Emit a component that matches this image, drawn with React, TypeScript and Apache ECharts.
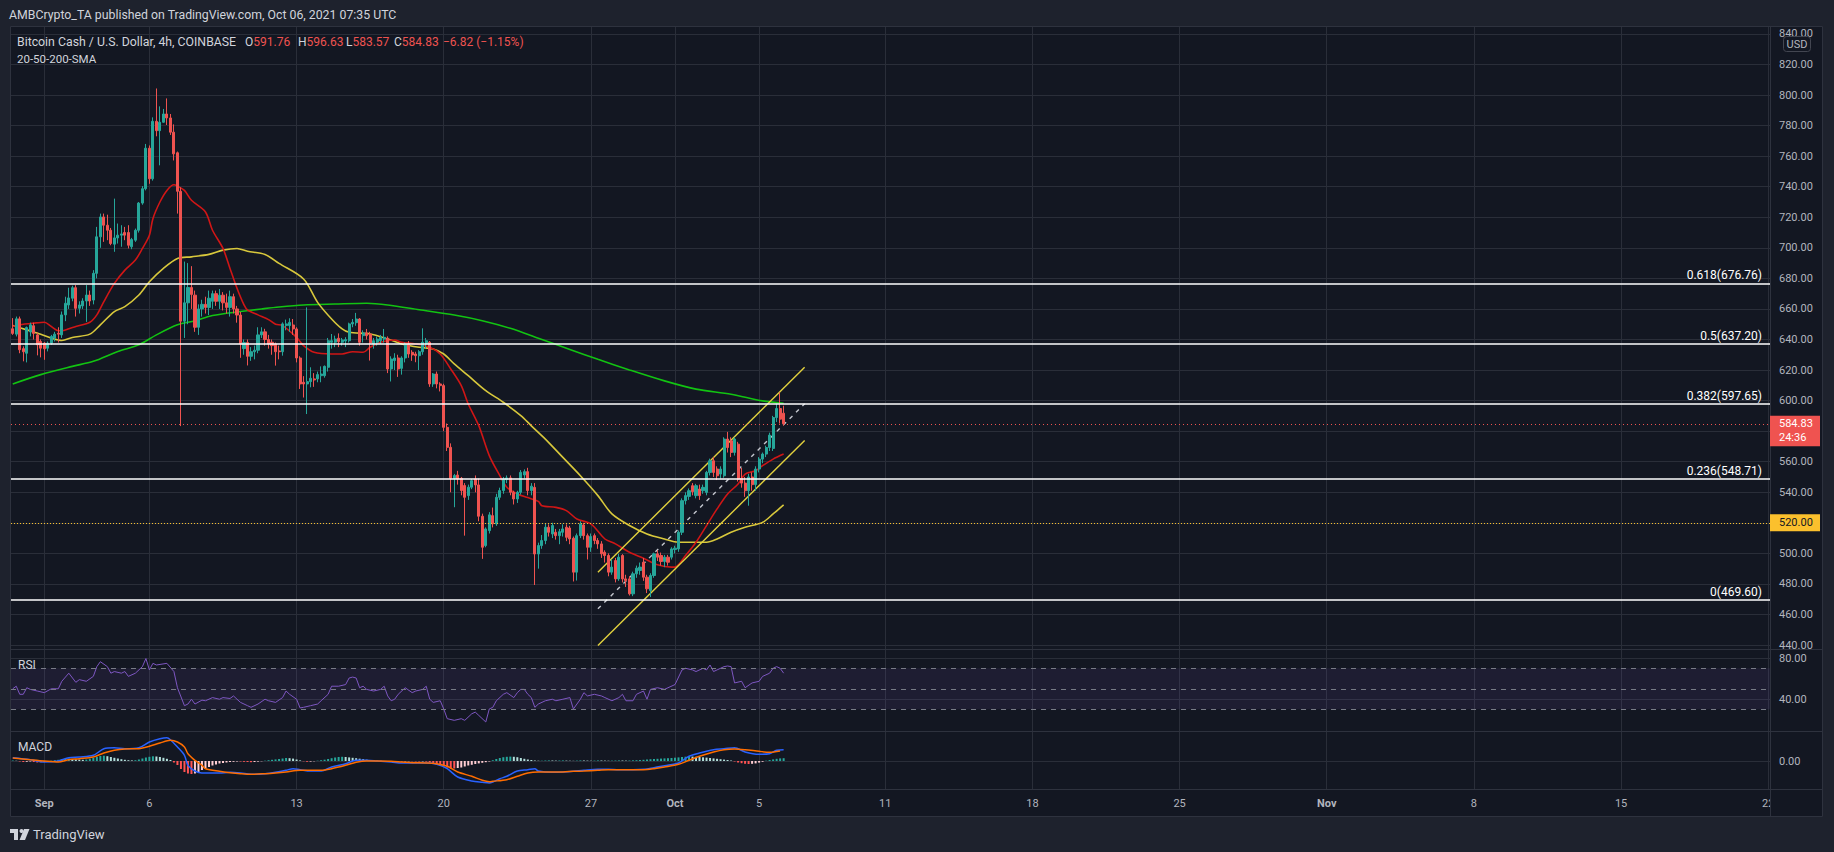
import React, { useEffect, useRef } from 'react';
import * as echarts from 'echarts';

// ---------- texts ----------
const headerTitle = 'AMBCrypto_TA published on TradingView.com, Oct 06, 2021 07:35 UTC';
const symbolTitle = 'Bitcoin Cash / U.S. Dollar, 4h, COINBASE';
const indicatorTitle = '20-50-200-SMA';
const ohlcLabels = ['O', 'H', 'L', 'C'];
const ohlcValues = [591.76, 596.63, 583.57, 584.83];
const changeText = '−6.82 (−1.15%)';
const lastPrice = 584.83;
const countdown = '24:36';
const alertLevel = 520;

// ---------- time axis ----------
const BARS_BEFORE_SEP1 = 9; // first bar: Aug 30 12:00 UTC, 4h bars
const CATEGORY_COUNT = 502;
const tickDays = [0, 5, 12, 19, 26, 30, 34, 40, 47, 54, 61, 68, 75, 82];
const tickLabels = ['Sep', '6', '13', '20', '27', 'Oct', '5', '11', '18', '25', 'Nov', '8', '15', '22'];
const monthLabels = ['Sep', 'Oct', 'Nov'];

// ---------- fibonacci ----------
const fibRatios = ['0.618', '0.5', '0.382', '0.236', '0'];
const fibPrices = [676.76, 637.2, 597.65, 548.71, 469.6];

// ---------- candles [open, close, low, high] ----------
const candles = [
  [647, 644, 643, 654], [643.5, 653.5, 642, 655], [653.5, 633.3, 631, 655], [634, 632, 625.7, 635.5],
  [631, 647.8, 625, 648.5], [645, 649.6, 642, 651], [649, 644, 640, 651], [643, 636.5, 629.6, 644.5],
  [638.7, 634.3, 628.3, 640],
  // Sep 1
  [637.6, 633.9, 626.7, 638.3], [634.3, 637.6, 632.2, 638.7], [637.6, 642, 636.5, 643], [640.9, 643.5, 638.7, 645], [644.1, 643.5, 638, 648], [643, 656.1, 641, 658.3],
  [656.1, 663.7, 652, 668], [662.6, 667.2, 660, 673.9], [667, 673.9, 665, 675.2], [673.9, 660.4, 655, 675.6], [660.4, 662.6, 657, 665], [662, 665.2, 660, 667],
  [665.2, 669.1, 651.5, 675.6], [669.1, 665.2, 662, 672], [665.8, 683.3, 663, 685.4], [683.3, 707.2, 680, 713.7], [707.2, 720.2, 700, 722.4], [720.2, 714.8, 703.9, 722.4],
  [714.8, 711.5, 705, 721.7], [711.5, 702.8, 701.7, 713], [702.4, 706.5, 697.4, 732.2], [706.5, 708.3, 702.8, 715.9], [708.3, 709.1, 700.7, 714.8], [710, 708.3, 705, 713.7],
  [710, 701.7, 699.6, 714.8], [700.7, 705.4, 699.1, 706.5], [705, 711.5, 703.9, 712.6], [711.5, 729.3, 710, 730], [729.3, 738.7, 728.2, 740.4], [738.7, 765.2, 737.6, 768],
  [765.2, 745.2, 741.9, 767], [745.2, 782.8, 744, 785.4], [782.8, 776.7, 773, 804.3], [776.7, 782.2, 754, 792.6], [782.2, 787.6, 781.9, 790.9], [787.6, 785, 780.4, 797.8],
  [785, 775.7, 773.9, 787.6], [775.7, 761.5, 757.2, 780.8], [762.2, 737, 722.4, 763], [737, 652, 583.3, 739.6], [652, 664, 641, 691], [664, 674, 650, 690],
  [674, 669.5, 660, 688], [669, 648, 645, 672], [648, 660, 643, 663], [660, 663, 655, 666], [663, 661, 657, 668], [661, 667, 656, 672],
  [665, 670, 660, 672], [670, 665, 662, 672], [665, 669, 660, 673], [669, 664, 659, 671], [664, 661, 657, 670], [661, 668, 655, 672],
  [668, 660, 657, 670], [660, 656, 651, 662], [656, 637, 628, 658], [634, 638, 630, 640], [638, 629, 623, 640], [629, 632, 626, 635],
  [632, 633, 627, 636], [633, 643, 631, 648], [643, 645, 641, 648], [645, 640, 636, 647], [640, 637, 634, 643], [638.2, 636, 630, 640],
  [637.1, 632, 622.9, 638], [632.5, 632, 627, 636], [632, 650.2, 629.4, 651.2], [649.1, 650.2, 646, 653], [649.1, 651.2, 645, 653.9], [649.5, 646.9, 643, 653.4],
  [646.9, 627.9, 625, 648], [627.9, 610.9, 607.6, 629], [612, 610.9, 602, 616], [610.9, 612.4, 591.2, 661], [612.4, 614.6, 608.7, 621.8], [614.2, 613.5, 609, 618],
  [614.2, 617, 612, 619], [616.3, 617.4, 612, 622.4], [616.3, 622.4, 615, 623], [621.8, 639.2, 619, 641], [638.2, 639.2, 634, 643.6], [638.2, 640.3, 635, 642.5],
  [640.8, 638.6, 635, 644], [638.2, 639.7, 636, 641], [639, 639.9, 635, 641.5], [639.2, 650.2, 638, 651], [650.2, 651.2, 648, 653.4], [651, 653.4, 649, 657.4],
  [653.4, 638.2, 636, 654], [642.5, 644.3, 638, 646], [644.3, 642.5, 640, 646.9], [643.6, 637.7, 626.2, 645], [637.1, 639.2, 634, 641], [638.2, 640.3, 636, 642],
  [639.2, 641.4, 637, 643], [640.3, 641.4, 638, 646.9], [640.8, 620.7, 618, 642], [620.7, 627.2, 612.5, 629], [626.2, 627.9, 620, 631], [627.9, 620.7, 615.5, 630],
  [621.1, 627.9, 617, 629], [627.9, 637.1, 625, 638], [637.1, 630.5, 628, 639], [631.6, 629.9, 626, 633], [630.5, 629.4, 625.1, 632], [629.4, 632, 620, 633],
  [632, 638.2, 630, 647.3], [637.1, 639.2, 634, 641], [638.2, 610.9, 609, 639], [610.9, 617.4, 609, 618], [617.4, 610.9, 608, 619], [610.9, 609.8, 606, 612],
  [609.8, 582.5, 580, 611], [582.5, 569.4, 567, 585], [569.4, 549.1, 540, 572], [549.1, 550.9, 530.2, 552], [551.3, 548.7, 545, 554], [549.1, 541.1, 538, 550],
  [544.4, 536.7, 511.6, 546], [537.8, 543.3, 535, 545], [543.3, 547.6, 542, 548.7], [548.7, 544.8, 540, 551], [544.8, 524.3, 521, 549], [524.3, 504, 496.4, 526],
  [505.1, 516, 504, 517], [514.9, 525.2, 513, 527], [524.7, 519.3, 517, 530], [519.3, 536.7, 518, 539], [536.7, 541.1, 535, 543], [541.1, 548.7, 539, 550],
  [548.3, 549.4, 546, 551], [549.4, 540, 538, 551], [540, 535.6, 532, 541], [535.6, 540, 533, 541], [540, 553, 538.5, 554.5], [551.3, 553.5, 549, 555],
  [553.5, 541.1, 538, 556], [541.1, 544, 538, 546], [543.2, 499.6, 479.3, 546], [499.6, 505.1, 490, 507], [505.1, 508.4, 503, 512], [508.4, 517.1, 506, 519.3],
  [517.1, 513.8, 511, 519], [512.7, 518.2, 510, 520], [513.8, 511.6, 509, 516], [511.6, 514.2, 506, 516], [513.8, 516, 511, 519], [517.1, 510.5, 508, 519],
  [516.6, 509.4, 506, 518], [509.9, 487.7, 481.6, 511], [487.7, 511.6, 482.2, 513], [511.6, 519.3, 510, 521], [518.6, 511.6, 509, 520], [511.6, 504, 496, 513],
  [504, 511, 501, 513], [511.6, 508.4, 506, 513], [508.4, 506.2, 503, 510], [506.2, 499.7, 497, 508], [500.7, 498.6, 494, 502], [498.6, 487.7, 485, 500],
  [487.7, 491, 486, 496], [495.3, 483.3, 481, 497], [483.3, 497.5, 482, 499.7], [498.6, 483.3, 481, 499.5], [483.3, 482.2, 478, 486], [483.3, 473.5, 472.4, 485],
  [473.5, 486.6, 472, 488], [486.6, 490.3, 484, 492], [488.8, 491, 486, 494], [494.2, 484.4, 482, 497], [484.4, 476.8, 474, 486], [475.7, 485.5, 471.4, 487],
  [485.5, 499.7, 484, 500.5], [499.7, 497.5, 495, 502], [498.6, 494.7, 492, 500.5], [494.7, 497.5, 491, 499], [497.5, 494.2, 492, 499], [497.5, 502.9, 496, 504],
  [502.5, 503.4, 500, 505], [502.9, 513.8, 501, 515], [513.8, 534.5, 512, 536], [534.5, 537.8, 532, 540], [537.3, 541, 535, 542.5], [544.3, 540.4, 538, 546],
  [537.8, 544.3, 536, 545.5], [542.1, 537.8, 535, 545], [541, 543.2, 539, 545], [539.9, 553, 538, 554], [553, 560.6, 551, 562], [560.6, 553, 550, 563],
  [555.2, 550.8, 548, 557], [551.9, 555.2, 549, 557], [550.8, 574.8, 549.5, 576], [574.8, 569.3, 566, 579.5], [573.7, 566.1, 563, 576], [566.1, 574.8, 564, 576],
  [571.5, 548.6, 547, 573], [549, 546, 543, 556], [546, 541, 537, 550], [541, 550, 531.2, 552], [550, 545, 541, 553], [545, 555.2, 541, 557],
  [555.2, 561.7, 553, 563], [561.7, 565, 559, 566], [565, 569.3, 563, 570.5], [569.3, 577.4, 567, 579], [568.7, 588.9, 567, 590], [588.9, 594.8, 586, 598],
  [594.8, 587.85, 585, 605.3], [591.76, 584.83, 583.57, 596.63],
];

// ---------- moving averages: [bar offset from Sep 1 00:00, value] ----------
const sma20 = [
  [-9, 648.5], [-7, 649.6], [-3, 650.7], [0, 651.3], [2, 648.5], [4, 645.7], [5, 645.7], [7, 647], [9, 648.5], [13, 651.3],
  [15, 656.1], [17, 664.8], [20, 676.7], [23, 685.4], [26, 692], [28, 699.6], [30, 708.3], [31, 719.1], [33, 730], [35, 737.6],
  [37, 741.3], [38, 740.4], [40, 737.6], [42, 731.1], [46, 723.5], [48, 711.5], [51, 699.6], [53, 686.5], [55, 673.5], [57, 662.6],
  [58, 659.3], [61, 656.1], [64, 653], [66, 650], [68, 649.1], [72, 641.4], [74, 636], [77, 631.6], [82, 630.5], [85, 630.5],
  [88, 632], [91, 631.6], [93, 634.9], [96, 638.2], [100, 639.7], [102, 638.2], [106, 637.1], [110, 634.9], [113, 630.5], [116, 620.7],
  [119, 609.8], [121, 597.8], [124, 583.6], [127, 564], [130, 550.9], [132, 543.3], [135, 538.9], [138, 536.5], [141, 534], [142, 531.2],
  [146, 530.1], [149, 528], [152, 522.5], [156, 519.3], [160, 509.4], [163, 506.2], [167, 500.7], [171, 496.8], [175, 492.5], [179, 491],
  [180, 491], [183, 498.6], [186, 507.3], [189, 518.2], [192, 529.1], [195, 538.9], [198, 545.4], [200, 551.9], [203, 554.1], [205, 557.4],
  [208, 561.7], [211, 565],
];
const sma50 = [
  [-9, 649.1], [-5, 646.3], [-1, 643.5], [2, 640.9], [5, 639.3], [8, 641.3], [13, 643.5], [16, 649.6], [20, 658.3], [23, 661.5],
  [27, 669.1], [30, 677.8], [34, 686.5], [38, 693], [42, 694.1], [47, 695.7], [51, 698.5], [55, 699.6], [58, 697.8], [63, 695.7],
  [67, 689.8], [74, 679.6], [78, 664.3], [82, 653.4], [85, 646.9], [87, 644.7], [93, 643.6], [98, 640.3], [102, 637.1], [107, 634.9],
  [111, 633.8], [114, 630.5], [117, 624], [121, 616.3], [126, 606.5], [131, 598.9], [136, 590.2], [139, 583.5], [143, 574.8], [148, 562.8],
  [153, 550.8], [158, 537.8], [162, 525.8], [167, 518.2], [172, 512.7], [177, 509.4], [181, 507.3], [186, 507.3], [189, 507.3], [192, 509.4],
  [196, 513.8], [200, 517.1], [205, 520.3], [208, 525.8], [211, 531.7],
];
const sma200 = [
  [-9, 610.9], [-1, 617], [8, 622.4], [14, 625.7], [21, 632.2], [27, 636.5], [32, 643], [38, 649.6], [43, 652.2], [48, 655.7],
  [56, 658.3], [62, 660], [67, 661.3], [74, 662.6], [83, 663.2], [92, 663.7], [98, 662.6], [107, 659.5], [117, 656], [125, 652.3],
  [133, 647.3], [141, 640.8], [150, 633.5], [158, 627], [167, 620.1], [177, 612.9], [186, 607.5], [196, 604.2], [205, 599.8], [211, 598.3],
];

// ---------- drawn channel (bar offset, price) ----------
const channelUpper = [[158, 487.7], [217, 621.9]];
const channelMiddle = [[158, 463.7], [217, 597.9]];
const channelLower = [[158, 439.7], [217, 573.9]];

// ---------- RSI ----------
const rsiLevels = [70, 50, 30];
const rsi = [
  [-9, 50], [-8, 52.5], [-7, 44.6], [-6, 44.6], [-5, 51], [-4, 49.4], [-2, 47.8], [0, 46.2], [2, 50], [4, 50],
  [5, 57.3], [7, 65.2], [9, 56.3], [10, 58.9], [12, 57.3], [14, 62.1], [15, 71.6], [16, 76.4], [18, 71.6], [19, 65.2],
  [20, 66.8], [22, 65.2], [23, 66.8], [24, 62.1], [26, 65.2], [28, 71.6], [29, 79.5], [30, 68.4], [31, 74.8], [32, 73.2],
  [35, 74.8], [37, 66.8], [38, 51], [40, 33.5], [41, 35.1], [42, 39.8], [43, 35.1], [45, 38.9], [46, 38.3], [48, 41.4],
  [50, 39.8], [51, 41.4], [53, 40.5], [54, 43], [55, 39.8], [56, 36.7], [58, 33.5], [59, 31.9], [61, 35.1], [63, 39.8],
  [64, 38.3], [66, 36.7], [68, 41.4], [69, 47.8], [70, 44.6], [72, 39.8], [73, 31.3], [74, 31.9], [76, 33.5], [78, 35.1],
  [79, 38.3], [81, 44.6], [82, 52.5], [84, 52.5], [86, 54.1], [87, 60.5], [88, 61.4], [89, 60.5], [90, 51], [91, 52.5],
  [92, 49.4], [94, 47.8], [96, 49.4], [97, 52.5], [98, 43], [99, 38.3], [100, 39.8], [101, 44.6], [103, 51], [105, 46.2],
  [106, 47.8], [108, 49.4], [109, 52.5], [110, 39.8], [111, 36.7], [113, 38.3], [114, 30.3], [115, 20.8], [117, 19.2], [119, 20.8],
  [120, 19.2], [122, 25.6], [123, 27.2], [124, 24], [126, 17.6], [127, 30.3], [128, 31.9], [129, 38.3], [131, 44.6], [132, 46.2],
  [134, 41.4], [135, 46.2], [136, 49.4], [137, 49.4], [138, 44.6], [139, 41.4], [140, 31.9], [141, 35.1], [143, 38.3], [145, 39.8],
  [146, 38.3], [148, 39.8], [150, 41.4], [151, 30.3], [153, 39.8], [154, 46.2], [155, 43], [157, 44.6], [159, 43], [160, 41.4],
  [162, 38.3], [164, 41.4], [165, 44.6], [166, 38.3], [168, 38.3], [169, 44.6], [171, 47.8], [172, 39.8], [173, 49.4], [175, 51],
  [177, 49.4], [178, 51], [180, 54.1], [182, 68.4], [183, 70], [185, 68.4], [186, 66.8], [188, 70], [189, 68.4], [190, 73.2],
  [191, 66.8], [192, 68.4], [194, 71.6], [195, 72.2], [196, 71.6], [197, 55.7], [199, 57.3], [200, 51], [202, 55.7], [204, 57.3],
  [205, 62.1], [207, 65.2], [208, 70], [209, 71.6], [210, 70], [211, 65.2],
];

// ---------- MACD ----------
const macdLine = [
  [-9, 3.3], [-4, 1.3], [0, -1], [4, 0], [7, 3.3], [10, 4], [14, 5.7], [17, 12.3], [20, 13.3], [23, 12.3],
  [27, 13.3], [30, 19], [33, 22.3], [35, 23.3], [36, 21.3], [38, 14], [40, 5.7], [41, -4.3], [43, -10], [45, -12],
  [46, -12], [50, -12], [53, -11.3], [56, -12], [59, -13.3], [63, -12.7], [66, -11.3], [69, -9.3], [71, -7.7], [73, -8.7],
  [76, -10], [79, -10], [82, -6], [86, -2.7], [89, 0.7], [92, 0.7], [95, 0], [99, -1], [102, -2], [105, -2],
  [109, -2], [112, -3.3], [115, -7.7], [118, -16], [122, -20], [125, -21.3], [127, -22], [128, -21], [130, -17.7], [132, -15.3],
  [135, -10], [138, -8.7], [140, -7.7], [141, -10], [145, -11.3], [148, -11], [151, -10.3], [154, -9.3], [158, -8.3], [161, -8.3],
  [164, -8.7], [168, -8.7], [171, -8.3], [174, -6.7], [177, -4.7], [181, -2], [184, 4.7], [187, 8], [191, 11.3], [194, 12.3],
  [197, 13.3], [200, 9], [204, 6.7], [207, 7.3], [209, 10.7], [211, 11.3],
];
const signalLine = [
  [-9, 3], [-4, 1.3], [0, 0], [4, -1], [7, 1.3], [10, 2.3], [14, 4], [17, 8], [20, 10.7], [23, 12],
  [27, 12.3], [30, 14.7], [33, 18], [36, 20.7], [38, 19], [40, 14], [41, 7.3], [43, 0.7], [45, -4.3], [46, -7.7],
  [50, -10.3], [53, -11.7], [56, -12.7], [59, -13.3], [63, -12.7], [66, -12], [69, -11], [73, -9.3], [76, -9.3], [79, -9.3],
  [82, -7.7], [86, -4.3], [89, -1.3], [92, 0], [95, 0], [99, -0.3], [102, -1], [105, -1.7], [109, -2], [112, -2.7],
  [115, -5.3], [118, -11], [122, -15.3], [125, -19.3], [127, -20.7], [128, -20.3], [132, -18.7], [135, -15.3], [138, -12], [141, -11],
  [145, -11], [148, -11], [151, -10.3], [154, -10], [158, -9.3], [161, -8.7], [164, -8.7], [168, -8.7], [171, -8.7], [174, -7.7],
  [177, -6], [181, -3.3], [184, 0.7], [187, 4.7], [191, 9], [194, 11.3], [197, 12], [200, 11.3], [204, 9.7], [207, 8.7], [210, 10],
];
const macdHist = [
  0.5, 0.3, -0.5, -1, -0.8, -0.5, -1, -1.5, -1.2, -0.8, -0.3, 0.3, 0.8, 1.2,
  1.8, 2.2, 2.5, 2, 1.6, 1.4, 1.2, 1.5, 2.2, 3,
  4, 5, 5.3, 4.8, 4, 3.2, 2.5, 1.8, 1.2,
  0.8, 0.6, 0.8, 1.5, 2.5,
  3.5, 4.2, 4.7, 4.5, 4, 3.2, 2.2, 1,
  -1.5, -4, -8, -11, -12.5, -13, -12.5, -11,
  -9, -7.5, -6, -4.5, -3.5, -2.5, -2, -1.5, -1, -0.8, -0.5, -0.5, -0.8, -1, -1.2, -1, -0.6, -0.3,
  0.3, 0.8, 1.2, 1.6, 2, 2.5, 3, 2.8, 2.4, 1.5, 0.6, -0.3, -0.8, -0.6, -0.3,
  0.3, 0.8, 1.3, 2, 2.8, 3.5, 4, 4.2, 4, 3.6, 3.2, 2.8, 2.3, 1.8, 1.3, 0.9, 0.5, 0.3, 0.2,
  -0.2, -0.3, -0.4, -0.5, -0.4, -0.5, -0.4, -0.3, -0.3, -0.4, -0.5, -0.4, -0.6,
  -1.5, -2.5, -3.5, -4.5, -5.5, -6.5, -7.5, -7.5, -7, -6.5, -5.5, -4.5, -3.8, -3, -2.4, -1.8, -1.2, -0.5,
  0.8, 2, 3, 3.8, 4.2, 4.4, 4.2, 3.8, 3, 2.2, 1.5, 1, 0.5,
  0.3, 0.3, 0.5, 0.6, 0.5, 0.4, 0.5, 0.6, 0.4, 0.3, 0.2, 0.4, 0.6, 0.5, 0.4, 0.3, 0.4, 0.6, 0.5, 0.4, 0.3, 0.4, 0.5, 0.6, 0.5, 0.4, 0.5,
  0.7, 0.8, 1, 1.2, 1.5, 1.8, 2, 2.2, 2.4, 2.6, 2.8, 3, 3.3, 3.6, 4, 4.3, 4.5, 4.4, 4.2, 4, 3.7, 3.4, 3, 2.6, 2.2, 1.8, 1.4, 1, 0.5,
  -0.5, -1.5, -2.2, -2.8, -3, -2.8, -2.4, -1.6, -0.8, 0.3, 1, 1.6, 2.2, 2.6, 2.8,
];

// ---------- styling ----------
const FONT = 'Roboto';
const BG = '#131722';
const FRAME = '#1e222d';
const GRID = '#2a2e39';
const AXIS_TEXT = '#b2b5be';
const TEXT = '#d1d4dc';
const UP = '#26a69a';
const DOWN = '#ef5350';

const toIdx = (pts: number[][]) => pts.map(([k, v]) => [k + BARS_BEFORE_SEP1, v]);
const tickIndex = tickDays.map((d) => BARS_BEFORE_SEP1 + d * 6);

function buildCategories() {
  const start = Date.UTC(2021, 7, 30, 12);
  const out: string[] = [];
  for (let i = 0; i < CATEGORY_COUNT; i++) {
    const d = new Date(start + i * 4 * 3600 * 1000);
    out.push(d.toISOString().slice(0, 13));
  }
  return out;
}

function buildOption() {
  const cats = buildCategories();
  const isTick = (i: number) => tickIndex.indexOf(i) >= 0;
  const xAxis = [0, 1, 2].map((g) => ({
    type: 'category',
    gridIndex: g,
    data: cats,
    boundaryGap: true,
    axisLine: { show: false },
    axisTick: { show: false },
    axisLabel: {
      show: g === 2,
      interval: (i: number) => isTick(i),
      formatter: (_v: string, i: number) => {
        const j = tickIndex.indexOf(i);
        if (j < 0) return '';
        const t = tickLabels[j];
        return monthLabels.indexOf(t) >= 0 ? `{m|${t}}` : t;
      },
      color: AXIS_TEXT,
      fontSize: 11,
      fontFamily: FONT,
      margin: 9,
      rich: { m: { fontWeight: 'bold', color: AXIS_TEXT, fontSize: 11, fontFamily: FONT } },
    },
    splitLine: { show: true, interval: (i: number) => isTick(i), alignWithLabel: true, lineStyle: { color: GRID, width: 1 } },
  }));

  const yBase = {
    position: 'right',
    axisLine: { show: false },
    axisTick: { show: false },
    splitLine: { show: true, lineStyle: { color: GRID, width: 1 } },
  };
  const yLabel = {
    showMinLabel: false,
    showMaxLabel: false,
    color: AXIS_TEXT,
    fontSize: 11,
    fontFamily: FONT,
    margin: 9,
    formatter: (v: number) => v.toFixed(2),
  };
  // price labels hidden where the last-price and alert boxes sit on top of them
  const priceLabel = {
    ...yLabel,
    formatter: (v: number) => (Math.abs(v - lastPrice) < 10 || Math.abs(v - alertLevel) < 1 ? '' : v.toFixed(2)),
  };
  const yAxis = [
    { ...yBase, gridIndex: 0, min: 437.4, max: 845.2, splitNumber: 20, minInterval: 20, maxInterval: 20, axisLabel: priceLabel },
    { ...yBase, gridIndex: 1, min: 8.8, max: 88.8, splitNumber: 2, minInterval: 40, maxInterval: 40, axisLabel: yLabel },
    { ...yBase, gridIndex: 2, min: -28, max: 30, splitNumber: 1, minInterval: 100, maxInterval: 100, axisLabel: yLabel },
  ];

  const fibLines = fibPrices.map((p, i) => ({
    yAxis: p,
    label: { formatter: `${fibRatios[i]}(${p.toFixed(2)})` },
  }));

  const histData = macdHist.map((v, i) => {
    const prev = i > 0 ? macdHist[i - 1] : v;
    let color;
    if (v >= 0) color = v >= prev ? '#26a69a' : '#b2dfdb';
    else color = v <= prev ? '#ff5252' : '#ffcdd2';
    return { value: v, itemStyle: { color } };
  });

  const lineSeries = (data: number[][], color: string, width: number, extra: any = {}) => ({
    type: 'line',
    xAxisIndex: 0,
    yAxisIndex: 0,
    data: toIdx(data),
    showSymbol: false,
    symbol: 'none',
    smooth: 0.3,
    silent: true,
    lineStyle: { color, width },
    z: 3,
    ...extra,
  });

  return {
    animation: false,
    backgroundColor: BG,
    textStyle: { fontFamily: FONT },
    grid: [
      { left: 11, top: 26, width: 1759, height: 623 },
      { left: 11, top: 649, width: 1759, height: 82 },
      { left: 11, top: 731, width: 1759, height: 58 },
    ],
    xAxis,
    yAxis,
    series: [
      {
        type: 'candlestick',
        xAxisIndex: 0,
        yAxisIndex: 0,
        data: candles,
        barWidth: 2.6,
        silent: true,
        z: 4,
        itemStyle: { color: UP, color0: DOWN, borderColor: UP, borderColor0: DOWN, borderWidth: 1 },
        markLine: {
          silent: true,
          symbol: ['none', 'none'],
          animation: false,
          lineStyle: { color: '#ffffff', width: 1.6, type: 'solid' },
          label: { show: true, position: 'insideEndTop', color: '#ffffff', fontSize: 12, fontFamily: FONT, distance: [8, 2] },
          data: [
            ...fibLines,
            { yAxis: lastPrice, lineStyle: { color: DOWN, width: 1, type: [1, 3] }, label: { show: false } },
            { yAxis: alertLevel, lineStyle: { color: '#f9c02e', width: 1, type: [1, 2] }, label: { show: false } },
          ],
        },
      },
      lineSeries(sma200, '#12c312', 1.6),
      lineSeries(sma50, '#d8c83c', 1.6),
      lineSeries(sma20, '#d01616', 1.6),
      lineSeries(channelUpper, '#e2d13e', 1.4, { smooth: false }),
      lineSeries(channelLower, '#e2d13e', 1.4, { smooth: false }),
      lineSeries(channelMiddle, '#c3c6ce', 1.4, { smooth: false, lineStyle: { color: '#c3c6ce', width: 1.4, type: [4, 5] } }),
      {
        type: 'line',
        xAxisIndex: 1,
        yAxisIndex: 1,
        data: toIdx(rsi),
        showSymbol: false,
        symbol: 'none',
        silent: true,
        lineStyle: { color: '#7e57c2', width: 1 },
        z: 3,
        markArea: { silent: true, itemStyle: { color: 'rgba(126,87,194,0.1)' }, data: [[{ yAxis: rsiLevels[0] }, { yAxis: rsiLevels[2] }]] },
        markLine: {
          silent: true,
          symbol: ['none', 'none'],
          label: { show: false },
          lineStyle: { color: '#787b86', width: 1, type: [5, 5] },
          data: rsiLevels.map((v) => ({ yAxis: v })),
        },
      },
      {
        type: 'bar',
        xAxisIndex: 2,
        yAxisIndex: 2,
        data: histData,
        barWidth: 2,
        silent: true,
        z: 2,
      },
      {
        type: 'line',
        xAxisIndex: 2,
        yAxisIndex: 2,
        data: toIdx(macdLine),
        showSymbol: false,
        symbol: 'none',
        smooth: 0.3,
        silent: true,
        lineStyle: { color: '#2962ff', width: 1.5 },
        z: 3,
      },
      {
        type: 'line',
        xAxisIndex: 2,
        yAxisIndex: 2,
        data: toIdx(signalLine),
        showSymbol: false,
        symbol: 'none',
        smooth: 0.3,
        silent: true,
        lineStyle: { color: '#ff6d00', width: 1.5 },
        z: 3,
      },
    ],
  };
}

function txt(x: number, y: number, text: string, fill: string, size: number, extra: any = {}) {
  return {
    type: 'text',
    x,
    y,
    z: 30,
    silent: true,
    style: { text, fill, fontSize: size, fontFamily: FONT, align: 'left', verticalAlign: 'middle', ...extra },
  };
}

function buildGraphic(yLast: number, yAlert: number) {
  const legendRich = {
    t: { fill: TEXT, color: TEXT, fontSize: 12, fontFamily: FONT },
    v: { fill: DOWN, color: DOWN, fontSize: 12, fontFamily: FONT },
  };
  const groupX = [245, 298, 346, 394];
  const ohlcTexts = ohlcLabels.map((l, i) => ({
    type: 'text',
    x: groupX[i],
    y: 42,
    z: 30,
    silent: true,
    style: { text: `{t|${l}}{v|${ohlcValues[i].toFixed(2)}}`, rich: legendRich, fontSize: 12, fontFamily: FONT, align: 'left', verticalAlign: 'middle' },
  }));

  return [
    { type: 'rect', z: 10, silent: true, shape: { x: 0, y: 0, width: 1834, height: 26 }, style: { fill: FRAME } },
    { type: 'rect', z: 10, silent: true, shape: { x: 0, y: 0, width: 10, height: 852 }, style: { fill: FRAME } },
    { type: 'rect', z: 10, silent: true, shape: { x: 1823, y: 0, width: 11, height: 852 }, style: { fill: FRAME } },
    { type: 'rect', z: 10, silent: true, shape: { x: 0, y: 817, width: 1834, height: 35 }, style: { fill: FRAME } },
    { type: 'rect', z: 11, silent: true, shape: { x: 1771, y: 790, width: 52, height: 27 }, style: { fill: BG } },
    { type: 'rect', z: 12, silent: true, shape: { x: 10.5, y: 26.5, width: 1812, height: 790 }, style: { fill: 'none', stroke: '#2e323e', lineWidth: 1 } },
    { type: 'line', z: 12, silent: true, shape: { x1: 1770.5, y1: 26, x2: 1770.5, y2: 817 }, style: { stroke: '#2e323e', lineWidth: 1 } },
    { type: 'line', z: 12, silent: true, shape: { x1: 10, y1: 649.5, x2: 1823, y2: 649.5 }, style: { stroke: '#2e323e', lineWidth: 1 } },
    { type: 'line', z: 12, silent: true, shape: { x1: 10, y1: 731.5, x2: 1823, y2: 731.5 }, style: { stroke: '#2e323e', lineWidth: 1 } },
    { type: 'line', z: 12, silent: true, shape: { x1: 10, y1: 789.5, x2: 1823, y2: 789.5 }, style: { stroke: '#2e323e', lineWidth: 1 } },
    txt(9, 15, headerTitle, TEXT, 12.3),
    txt(17, 42, symbolTitle, TEXT, 12.3),
    ...ohlcTexts,
    txt(443, 42, changeText, DOWN, 12),
    txt(17, 59, indicatorTitle, TEXT, 11.5),
    txt(18, 665, 'RSI', TEXT, 12),
    txt(18, 747, 'MACD', TEXT, 12),
    // USD badge
    { type: 'rect', z: 25, silent: true, shape: { x: 1783.5, y: 36.5, width: 27, height: 15, r: 3 }, style: { fill: BG, stroke: '#434651', lineWidth: 1 } },
    txt(1797, 44, 'USD', AXIS_TEXT, 11, { align: 'center' }),
    // last price box
    { type: 'rect', z: 25, silent: true, shape: { x: 1770, y: yLast - 8, width: 50, height: 30.5 }, style: { fill: DOWN } },
    txt(1779, yLast, lastPrice.toFixed(2), '#ffffff', 11),
    txt(1779, yLast + 14, countdown, '#ffffff', 11),
    // alert level box
    { type: 'rect', z: 25, silent: true, shape: { x: 1770, y: yAlert - 8.5, width: 50, height: 17 }, style: { fill: '#fbc02d' } },
    txt(1779, yAlert, alertLevel.toFixed(2), '#131722', 11),
    // TradingView logo
    { type: 'rect', z: 30, silent: true, shape: { x: 10, y: 829, width: 8, height: 4 }, style: { fill: TEXT } },
    { type: 'rect', z: 30, silent: true, shape: { x: 14, y: 829, width: 4, height: 11 }, style: { fill: TEXT } },
    { type: 'circle', z: 30, silent: true, shape: { cx: 21.5, cy: 831, r: 2 }, style: { fill: TEXT } },
    { type: 'polygon', z: 30, silent: true, shape: { points: [[24, 829], [29.5, 829], [25, 840], [19.5, 840]] }, style: { fill: TEXT } },
    txt(33, 834, 'TradingView', TEXT, 13),
  ];
}

export default function App() {
  const ref = useRef<HTMLDivElement>(null);
  useEffect(() => {
    document.body.style.margin = '0';
    const chart = echarts.init(ref.current as HTMLDivElement, null, { renderer: 'svg', width: 1834, height: 852 });
    chart.setOption(buildOption() as any);
    const yLast = chart.convertToPixel({ yAxisIndex: 0 } as any, lastPrice) as unknown as number;
    const yAlert = chart.convertToPixel({ yAxisIndex: 0 } as any, alertLevel) as unknown as number;
    chart.setOption({ graphic: { elements: buildGraphic(yLast, yAlert) } } as any);
    return () => chart.dispose();
  }, []);
  return <div ref={ref} style={{ position: 'absolute', left: 0, top: 0, width: 1834, height: 852 }} />;
}
